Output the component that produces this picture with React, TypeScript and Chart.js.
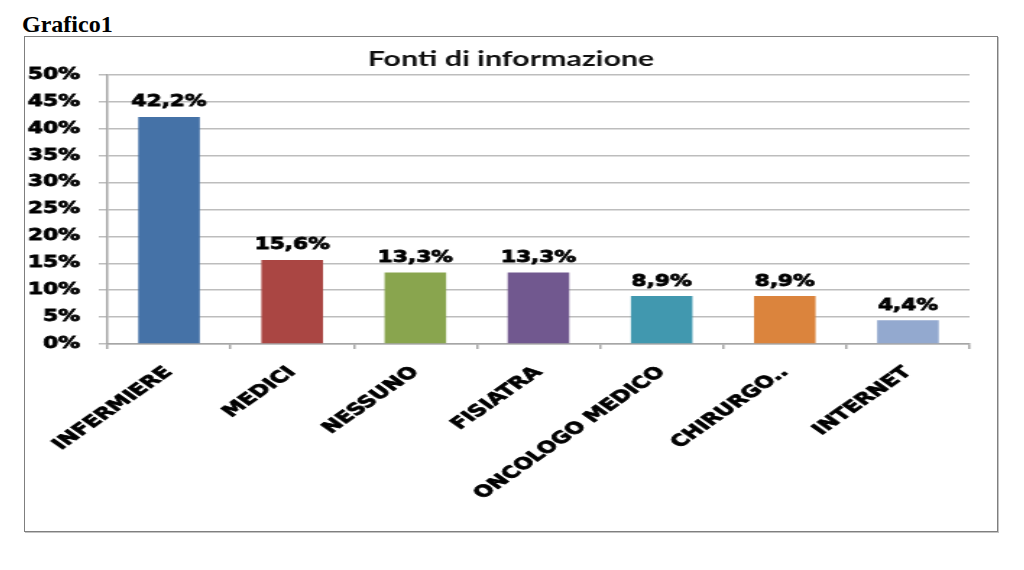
import React, { useEffect, useRef } from 'react';
import { Chart, registerables } from 'chart.js';

Chart.register(...registerables);

const chartTitle = 'Fonti di informazione';
const categories = ['INFERMIERE', 'MEDICI', 'NESSUNO', 'FISIATRA', 'ONCOLOGO MEDICO', 'CHIRURGO..', 'INTERNET'];
const percentages = [42.2, 15.6, 13.3, 13.3, 8.9, 8.9, 4.4];
const barColors = ['#4572a7', '#aa4643', '#89a54e', '#71588f', '#4198af', '#db843d', '#93a9cf'];
const yTicks = [0, 5, 10, 15, 20, 25, 30, 35, 40, 45, 50];

// the original chart image is stretched horizontally inside the document
const INNER_W = 672;
const BOX_W = 972;
const BOX_H = 494;

const valueLabels = {
  id: 'valueLabels',
  afterDatasetsDraw(chart: Chart) {
    const ctx = chart.ctx;
    const meta = chart.getDatasetMeta(0);
    ctx.save();
    ctx.fillStyle = '#000';
    ctx.strokeStyle = '#000';
    ctx.lineWidth = 0.8;
    ctx.font = 'bold 15px "DejaVu Sans"';
    ctx.textAlign = 'center';
    ctx.textBaseline = 'bottom';
    meta.data.forEach((bar: any, i: number) => {
      const txt = percentages[i].toFixed(1).replace('.', ',') + '%';
      ctx.fillText(txt, bar.x, bar.y - 7);
      ctx.strokeText(txt, bar.x, bar.y - 7);
    });
    ctx.restore();
  },
};

// title centred on the whole canvas, not on the padded area
const centeredTitle = {
  id: 'centeredTitle',
  afterDraw(chart: Chart) {
    const ctx = chart.ctx;
    ctx.save();
    ctx.fillStyle = '#111';
    ctx.font = 'bold 21px Lato';
    ctx.textAlign = 'center';
    ctx.textBaseline = 'middle';
    ctx.fillText(chartTitle, chart.width / 2, 22);
    ctx.restore();
  },
};

const FontiChart: React.FC = () => {
  const chartRef = useRef<HTMLCanvasElement>(null);
  const chartInstance = useRef<Chart | null>(null);

  useEffect(() => {
    document.body.style.margin = '0';
    if (!chartRef.current) return;
    if (chartInstance.current) chartInstance.current.destroy();

    const tickFont = { family: 'DejaVu Sans', size: 15, weight: 'bold' as const };

    chartInstance.current = new Chart(chartRef.current, {
      type: 'bar',
      data: {
        labels: categories,
        datasets: [
          {
            data: percentages,
            backgroundColor: barColors,
            borderWidth: 0,
            barPercentage: 0.5,
            categoryPercentage: 1,
          },
        ],
      },
      options: {
        animation: false,
        responsive: true,
        maintainAspectRatio: false,
        layout: { padding: { left: 0, right: 19, top: 38, bottom: 0 } },
        plugins: {
          legend: { display: false },
          tooltip: { enabled: false },
          title: { display: false },
        },
        scales: {
          y: {
            min: 0,
            max: 50,
            afterFit: (scale: any) => {
              scale.width = 57;
            },
            afterBuildTicks: (scale: any) => {
              scale.ticks = yTicks.map((v) => ({ value: v }));
            },
            grid: { color: '#bdbdbd', lineWidth: 1.5, tickLength: 6 },
            border: { color: '#a6a6a6', width: 1.5 },
            ticks: {
              color: '#000',
              padding: 13,
              textStrokeColor: '#000',
              textStrokeWidth: 0.8,
              font: tickFont,
              callback: (v: any) => v + '%',
            },
          },
          x: {
            afterFit: (scale: any) => {
              scale.height = 187;
            },
            grid: { offset: true, drawOnChartArea: false, color: '#a6a6a6', lineWidth: 1.5, tickLength: 5 },
            border: { color: '#a6a6a6', width: 1.5 },
            ticks: {
              color: '#000',
              autoSkip: false,
              minRotation: 45,
              maxRotation: 45,
              padding: 14,
              textStrokeColor: '#000',
              textStrokeWidth: 0.8,
              font: { family: 'DejaVu Sans', size: 16, weight: 'bold' },
            },
          },
        },
      },
      plugins: [valueLabels, centeredTitle],
    });

    return () => {
      if (chartInstance.current) {
        chartInstance.current.destroy();
        chartInstance.current = null;
      }
    };
  }, []);

  return (
    <div
      style={{
        position: 'absolute',
        left: '24px',
        top: '36px',
        width: BOX_W + 'px',
        height: BOX_H + 'px',
        border: '1px solid #7f7f7f',
        boxShadow: '1px 1px 0 #c4c4c4',
        background: '#fff',
        overflow: 'hidden',
      }}
    >
      <div
        style={{
          position: 'absolute',
          left: 0,
          top: 0,
          width: INNER_W + 'px',
          height: BOX_H + 'px',
          transform: `scaleX(${BOX_W / INNER_W})`,
          transformOrigin: '0 0',
        }}
      >
        <canvas ref={chartRef} />
      </div>
    </div>
  );
};

export default function App() {
  return (
    <div style={{ position: 'relative', width: '1024px', height: '570px', background: '#fff' }}>
      <div
        style={{
          position: 'absolute',
          left: '22px',
          top: '12px',
          fontFamily: '"Liberation Serif", "Times New Roman", serif',
          fontWeight: 'bold',
          fontSize: '24px',
          lineHeight: '24px',
          color: '#000',
        }}
      >
        Grafico1
      </div>
      <FontiChart />
    </div>
  );
}
